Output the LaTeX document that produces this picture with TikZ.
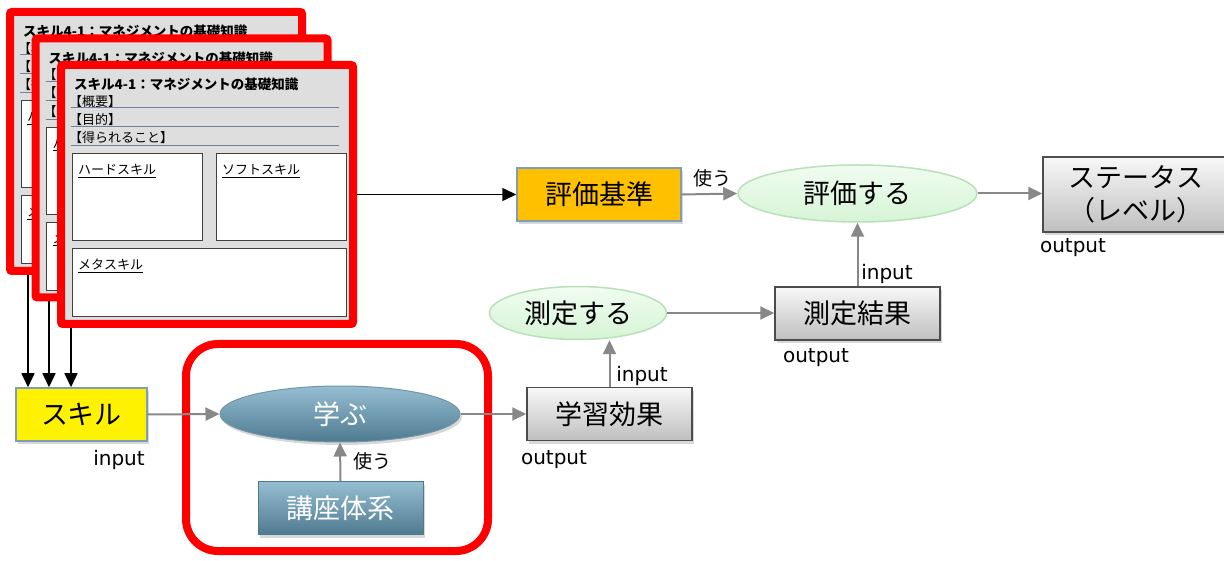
\documentclass[tikz,border=0pt]{standalone}
\usepackage{fontspec}
\setmainfont{DejaVu Sans}
\newfontfamily\jp{Noto Sans CJK JP}
\usetikzlibrary{arrows.meta,shapes.geometric,shadows,calc}
\definecolor{cardgray}{RGB}{222,222,222}
\definecolor{hlinec}{RGB}{110,128,156}
\definecolor{garrc}{RGB}{136,136,136}
\definecolor{steelT}{RGB}{150,190,210}
\definecolor{steelB}{RGB}{78,122,144}
\definecolor{greenT}{RGB}{240,252,240}
\definecolor{greenB}{RGB}{214,244,214}
\definecolor{greenD}{RGB}{185,225,185}
\definecolor{kijunc}{RGB}{255,192,0}
\definecolor{skillborder}{RGB}{127,157,185}
\tikzset{
  card/.style={draw=red, line width=8, fill=cardgray, rounded corners=2,
    minimum width=292, minimum height=259, inner sep=0},
  ctitle/.style={anchor=west, inner sep=0, font=\jp\bfseries\fontsize{13.5}{15}\selectfont},
  ctxt/.style={anchor=west, inner sep=0, font=\jp\fontsize{13}{15}\selectfont},
  hline/.style={draw=hlinec, line width=1},
  ibox/.style={draw=black!75, line width=1, fill=white},
  shd/.style={drop shadow={shadow xshift=2pt, shadow yshift=-3pt, opacity=0.3}},
  big/.style={font=\jp\fontsize{27}{33}\selectfont},
  gbox/.style={rectangle, draw=black!70, line width=1.5, top color=black!3, bottom color=black!25,
    minimum width=165, minimum height=53, inner sep=0, big, shd},
  sbox/.style={rectangle, draw=steelB, line width=1, top color=steelT, bottom color=steelB,
    minimum width=165, minimum height=53, inner sep=0, big, text=white, shd},
  sell/.style={ellipse, draw=steelB!80, line width=1, top color=steelT, bottom color=steelB,
    minimum width=240, minimum height=56, inner sep=0, big, text=white, shd},
  gell/.style={ellipse, draw=greenD, line width=1.5, top color=greenT, bottom color=greenB,
    inner sep=0, big},
  lbl/.style={inner sep=0, font=\fontsize{20}{22}\selectfont},
  jlbl/.style={inner sep=0, font=\jp\fontsize{19}{21}\selectfont},
  garr/.style={draw=garrc, line width=2, -{Triangle[width=13,length=14]}},
  blk/.style={draw=black, line width=1.5, -{Triangle[width=13,length=14]}},
}
\newcommand\skillcard[3]{%
\begin{scope}[shift={(#2,#3)}]
  \node[card] (#1) at (146,129.5) {};
  \node[ctitle] (#1-t) at (13,19.5) {スキル4-1：マネジメントの基礎知識};
  \node[ctxt] (#1-a) at (8,36.5) {【概要】};
  \draw[hline] (10,43) -- (278,43);
  \node[ctxt] (#1-b) at (8,54.5) {【目的】};
  \draw[hline] (10,62) -- (278,62);
  \node[ctxt] (#1-c) at (8,73) {【得られること】};
  \draw[hline] (10,81) -- (278,81);
  \draw[ibox] (11,89) rectangle (141,176);
  \node[ctxt] (#1-h) at (17,106) {\underline{ハードスキル}};
  \draw[ibox] (155,89) rectangle (285,176);
  \node[ctxt] (#1-s) at (161,106) {\underline{ソフトスキル}};
  \draw[ibox] (11,184) rectangle (285,252);
  \node[ctxt] (#1-m) at (17,201) {\underline{メタスキル}};
\end{scope}}
\begin{document}
\begin{tikzpicture}[x=1pt,y=-1pt]
\useasboundingbox (0,0) rectangle (1224,561);
\fill[white] (0,0) rectangle (1224,561);

\skillcard{card1}{10}{12}
\skillcard{card2}{35.5}{38.5}
\skillcard{card3}{61}{65}

% red frame around learning
\node[draw=red, line width=8, rounded corners=32, minimum width=302, minimum height=207, inner sep=0] (frame) at (337,447.5) {};

% main nodes
\node[rectangle, draw=skillborder, line width=1.5, fill=yellow, minimum width=131, minimum height=53, inner sep=0, big, shd] (skill) at (81.5,414.5) {スキル};
\node[sell] (manabu) at (340,414) {学ぶ};
\node[sbox] (kouza) at (340.5,508) {講座体系};
\node[gbox] (gakushu) at (609.5,414) {学習効果};
\node[gell, minimum width=177, minimum height=53] (sokutei) at (578,313) {測定する};
\node[gbox] (kekka) at (857.5,313.5) {測定結果};
\node[gell, minimum width=239, minimum height=57] (hyoka) at (857.5,193.5) {評価する};
\node[rectangle, draw=skillborder, line width=1.5, fill=kijunc, minimum width=164, minimum height=53, inner sep=0, big, shd] (kijun) at (599,194.5) {評価基準};
\node[gbox, minimum width=186, minimum height=75, align=center] (status) at (1136,194.5) {ステータス\\（レベル）};

% labels
\node[lbl] (l1) at (119,460) {input};
\node[jlbl] (l2) at (372,461) {使う};
\node[lbl] (l3) at (554,460) {output};
\node[lbl] (l4) at (642,376) {input};
\node[lbl] (l5) at (816,358) {output};
\node[lbl] (l6) at (887,274) {input};
\node[jlbl] (l7) at (712,178) {使う};
\node[lbl] (l8) at (1073,248) {output};

% black arrows
\coordinate (ax1) at (28,0);
\coordinate (ax2) at (49,0);
\coordinate (ax3) at (71,0);
\draw[blk] (ax1 |- card1.south) -- (ax1 |- skill.north);
\draw[blk] (ax2 |- card2.south) -- (ax2 |- skill.north);
\draw[blk] (ax3 |- card3.south) -- (ax3 |- skill.north);
\draw[blk] (card3.east |- kijun.west) -- (kijun.west);

% gray arrows
\draw[garr] (skill.east) -- (manabu.west);
\draw[garr] (kouza.north) -- (manabu.south);
\draw[garr] (manabu.east) -- (gakushu.west);
\draw[garr] (gakushu.north) -- (gakushu.north |- sokutei.south);
\draw[garr] (sokutei.east) -- (sokutei.east -| kekka.west);
\draw[garr] (kekka.north) -- (hyoka.south);
\draw[garr] (kijun.east) -- (hyoka.west);
\draw[garr] (hyoka.east) -- (hyoka.east -| status.west);
\end{tikzpicture}
\end{document}
